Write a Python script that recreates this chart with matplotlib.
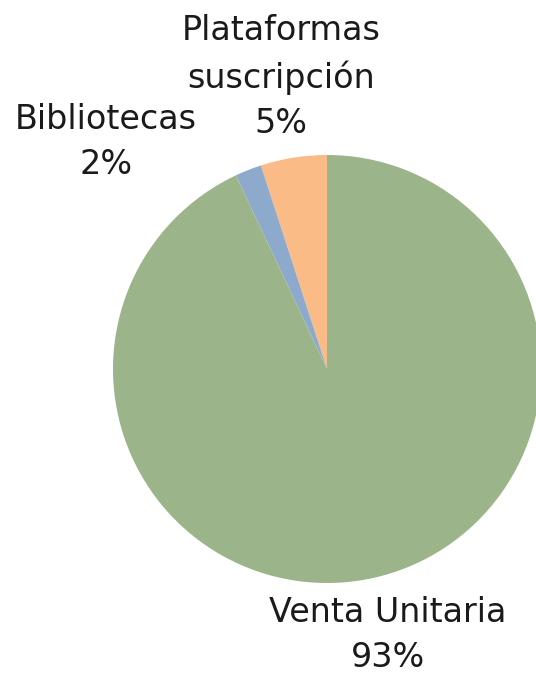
import matplotlib
matplotlib.use("Agg")
import matplotlib.pyplot as plt

categories = ["Plataformas\nsuscripción", "Bibliotecas", "Venta Unitaria"]
shares = [5, 2, 93]
colors = ["#FBBB86", "#8DAACD", "#9CB48A"]

W, H = 536, 674
fig = plt.figure(figsize=(W / 100, H / 100), dpi=100)

# pie centre ~ (327, 369) px, radius ~214 px
cx, cy, r = 327, 369, 214
ax = fig.add_axes([(cx - r) / W, (H - cy - r) / H, 2 * r / W, 2 * r / H])
wedges, _ = ax.pie(shares, colors=colors, startangle=90, counterclock=True,
                   wedgeprops=dict(linewidth=0))
for w in wedges:
    w.set_clip_on(False)
ax.set_xlim(-1, 1)
ax.set_ylim(-1, 1)
ax.set_aspect("equal")
ax.axis("off")

font = dict(family=["DejaVu Sans"], fontsize=24, ha="center", va="center",
            linespacing=1.46, color="#1a1a1a")
label_pos = [(281, 77), (106, 142), (388, 635)]
for name, val, (x, y) in zip(categories, shares, label_pos):
    fig.text(x / W, 1 - y / H, f"{name}\n{val}%", **font)

fig.savefig("out.png", dpi=100)
